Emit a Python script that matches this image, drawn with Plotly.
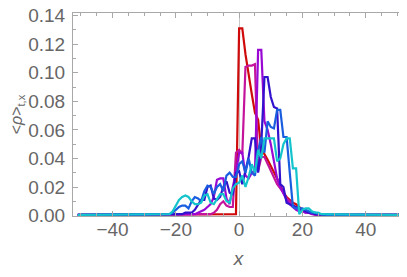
import plotly.graph_objects as go

# lattice sites (outer tails at +-51)
X = [-51, *range(-26, 31), 51]

RED = [0.0005,
       0.0005, 0.0005, 0.0005, 0.0005, 0.0005, 0.0005, 0.0005, 0.0005, 0.0005, 0.0005,
       0.0005, 0.0005, 0.0005, 0.0005, 0.0005, 0.0005, 0.0005, 0.0005, 0.0005, 0.0005,
       0.0005, 0.001, 0.001, 0.001, 0.001, 0.001, 0.131, 0.131, 0.113, 0.098,
       0.085, 0.072, 0.067, 0.046, 0.043, 0.039, 0.035, 0.030, 0.026, 0.021,
       0.016, 0.013, 0.011, 0.009, 0.008, 0.006, 0.004, 0.003, 0.002, 0.002,
       0.001, 0.0005, 0.0005, 0.0005, 0.0005, 0.0005, 0.0005,
       0.0005]

MAGENTA = [0.0005,
           0.0005, 0.0005, 0.0005, 0.0005, 0.0005, 0.0005, 0.0005, 0.0005, 0.0005, 0.0005,
           0.0005, 0.0005, 0.0005, 0.0005, 0.0005, 0.0005, 0.0005, 0.001, 0.002, 0.004,
           0.008, 0.010, 0.007, 0.006, 0.006, 0.044, 0.046, 0.043, 0.104, 0.105,
           0.105, 0.106, 0.031, 0.041, 0.041, 0.036, 0.032, 0.027, 0.022, 0.019,
           0.016, 0.012, 0.010, 0.007, 0.006, 0.004, 0.003, 0.002, 0.002, 0.001,
           0.0005, 0.0005, 0.0005, 0.0005, 0.0005, 0.0005, 0.0005,
           0.0005]

PURPLE = [0.0005,
          0.0005, 0.0005, 0.0005, 0.0005, 0.0005, 0.0005, 0.0005, 0.0005, 0.0005, 0.0005,
          0.0005, 0.0005, 0.001, 0.002, 0.003, 0.004, 0.006, 0.008, 0.013, 0.025,
          0.026, 0.026, 0.012, 0.008, 0.020, 0.030, 0.044, 0.044, 0.028, 0.026,
          0.030, 0.031, 0.116, 0.116, 0.066, 0.060, 0.050, 0.038, 0.026, 0.020,
          0.015, 0.011, 0.008, 0.006, 0.004, 0.003, 0.003, 0.002, 0.002, 0.001,
          0.001, 0.0005, 0.0005, 0.0005, 0.0005, 0.0005, 0.0005,
          0.0005]

INDIGO = [0.0005,
          0.0005, 0.0005, 0.0005, 0.0005, 0.0005, 0.0005, 0.0005, 0.0005, 0.001, 0.002,
          0.002, 0.002, 0.004, 0.008, 0.011, 0.011, 0.020, 0.021, 0.012, 0.011,
          0.013, 0.020, 0.024, 0.016, 0.015, 0.030, 0.031, 0.022, 0.032, 0.041,
          0.054, 0.054, 0.030, 0.050, 0.097, 0.097, 0.083, 0.076, 0.075, 0.022,
          0.020, 0.009, 0.008, 0.007, 0.006, 0.005, 0.004, 0.003, 0.002, 0.002,
          0.001, 0.001, 0.0005, 0.0005, 0.0005, 0.0005, 0.0005,
          0.0005]

BLUE = [0.0005,
        0.0005, 0.0005, 0.0005, 0.0005, 0.001, 0.002, 0.004, 0.006, 0.007, 0.007,
        0.005, 0.010, 0.013, 0.012, 0.010, 0.017, 0.021, 0.020, 0.015, 0.020,
        0.022, 0.017, 0.028, 0.030, 0.027, 0.027, 0.036, 0.038, 0.030, 0.040,
        0.030, 0.028, 0.045, 0.055, 0.044, 0.066, 0.062, 0.061, 0.074, 0.074,
        0.055, 0.055, 0.030, 0.006, 0.005, 0.005, 0.005, 0.004, 0.003, 0.002,
        0.002, 0.001, 0.001, 0.0005, 0.0005, 0.0005, 0.0005,
        0.0005]

CYAN = [0.0005,
        0.0005, 0.0005, 0.0005, 0.0005, 0.001, 0.003, 0.007, 0.011, 0.013, 0.014,
        0.013, 0.010, 0.008, 0.008, 0.009, 0.014, 0.015, 0.009, 0.008, 0.012,
        0.015, 0.015, 0.010, 0.009, 0.019, 0.022, 0.023, 0.028, 0.020, 0.027,
        0.036, 0.030, 0.046, 0.040, 0.054, 0.054, 0.054, 0.054, 0.038, 0.040,
        0.050, 0.054, 0.054, 0.033, 0.033, 0.001, 0.004, 0.005, 0.005, 0.003,
        0.002, 0.002, 0.001, 0.001, 0.0005, 0.0005, 0.0005,
        0.0005]

SERIES = [
    (RED,     "#cf0a0a"),
    (MAGENTA, "#c4149c"),
    (PURPLE,  "#9a08d4"),
    (INDIGO,  "#3212cc"),
    (BLUE,    "#1a5ee0"),
    (CYAN,    "#14c4cc"),
]

_FRAME = "#a8a8a8"
_TEXT  = "#666666"
_FONT  = "Liberation Sans, Arial, sans-serif"

fig = go.Figure()
for vals, colour in SERIES:
    fig.add_trace(go.Scatter(
        x=X, y=vals, mode="lines",
        line=dict(color=colour, width=2.2),
        showlegend=False,
    ))

_AXIS = dict(
    showline=True, linecolor=_FRAME, linewidth=1, mirror="ticks",
    ticks="inside", tickcolor=_FRAME, ticklen=5, tickwidth=1,
    tickfont=dict(family=_FONT, size=19, color=_TEXT),
    showgrid=False, automargin=False, ticklabeloverflow="allow",
)

# page body has an 8px default margin, so the figure is 8px smaller
fig.update_layout(
    width=399, height=269,
    margin=dict(l=65, r=3, t=5, b=61),
    paper_bgcolor="white", plot_bgcolor="white",
    font=dict(family=_FONT, color=_TEXT),
    xaxis=dict(
        **_AXIS,
        range=[-52.5, 52.1],
        tickvals=[-40, -20, 0, 20, 40],
        ticktext=["\u221240", "\u221220", "0", "20", "40"],
        minor=dict(dtick=5, tick0=0, ticks="inside", ticklen=3, tickcolor=_FRAME),
        zeroline=True, zerolinecolor="#c8c8c8", zerolinewidth=1,
        title=dict(text="<i>x</i>", font=dict(family=_FONT, size=19, color=_TEXT), standoff=12),
        ticklabelstandoff=-4,
    ),
    yaxis=dict(
        **_AXIS,
        range=[-0.0003, 0.1418],
        tickvals=[0, 0.02, 0.04, 0.06, 0.08, 0.10, 0.12, 0.14],
        tickformat=".2f",
        minor=dict(dtick=0.01, tick0=0, ticks="inside", ticklen=3, tickcolor=_FRAME),
        zeroline=False,
        title=dict(text="&lt;<i>\u03c1</i>&gt;<sub>t,x</sub>",
                   font=dict(family=_FONT, size=16, color=_TEXT), standoff=3),
        ticklabelstandoff=3,
    ),
)

fig.write_html("out.html")
